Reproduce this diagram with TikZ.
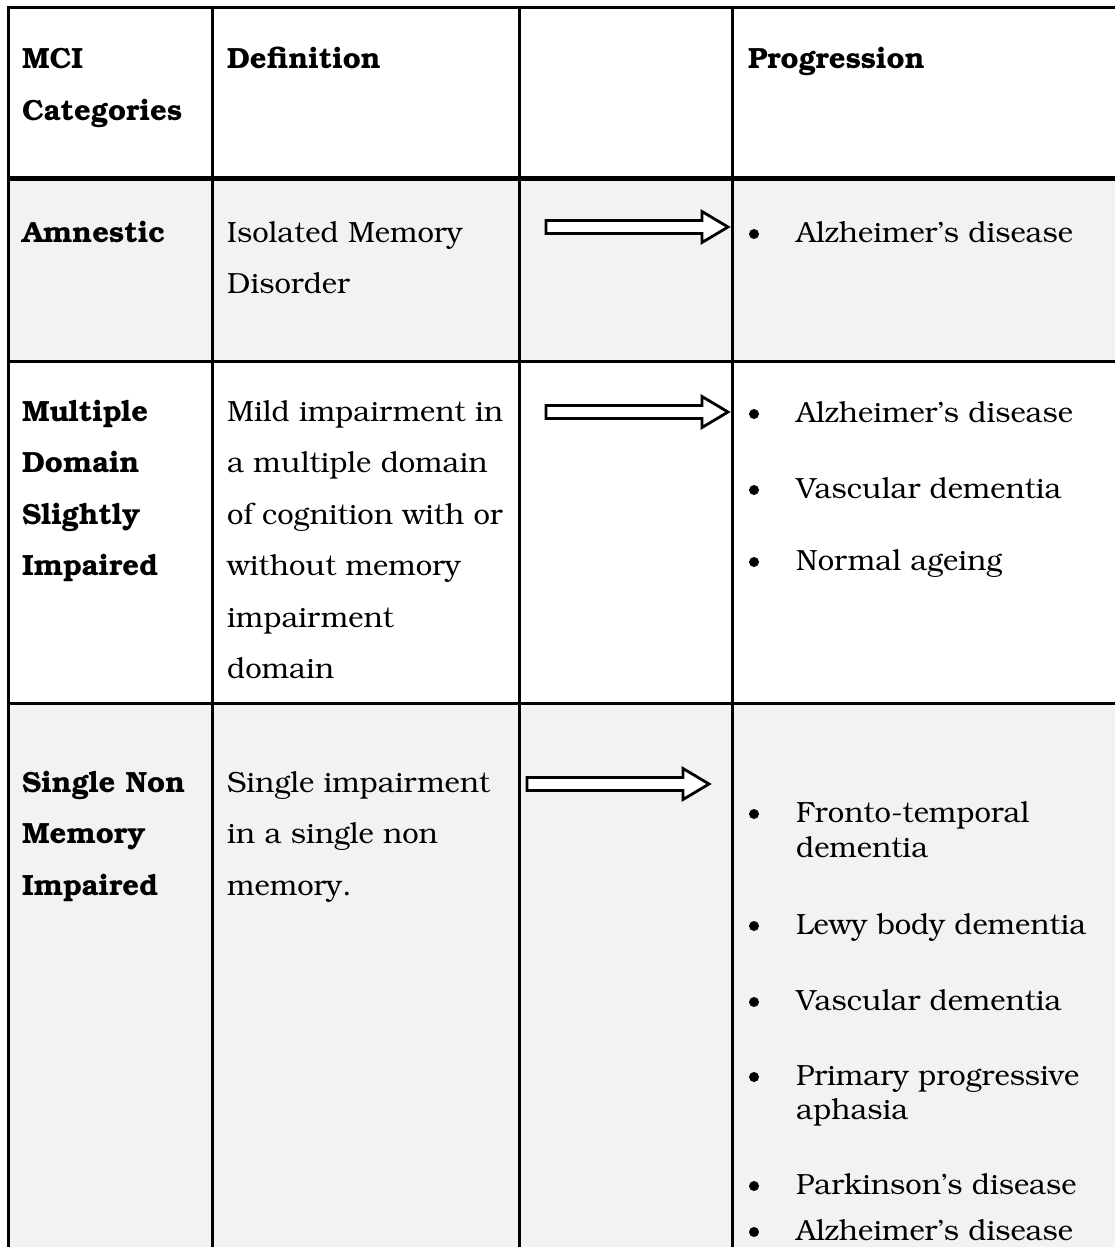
\documentclass[tikz,border=0pt]{standalone}
\usepackage[T1]{fontenc}
\usepackage{bookman}
\definecolor{rowshade}{HTML}{F2F2F2}
\begin{document}
\begin{tikzpicture}[x=1pt,y=-1pt,
  rule/.style={line width=3pt},
  headrule/.style={line width=5pt},
  cell/.style={anchor=base west, inner sep=0pt, font=\fontsize{29.2}{34}\selectfont},
  headcell/.style={cell, font=\fontsize{29.2}{34}\selectfont\bfseries},
  dot/.style={circle, fill=black, inner sep=0pt, minimum size=10pt},
  blockarrow/.pic={
    \draw[line width=2.8pt, fill=white, line join=miter]
      (0,-6.5) -- (156,-6.5) -- (156,-15.5) -- (182,0) -- (156,15.5)
      -- (156,6.5) -- (0,6.5) -- cycle;
  }]
\useasboundingbox (0,0) rectangle (1115,1247);

% shaded body rows
\fill[rowshade] (8,178) rectangle (1115,361);
\fill[rowshade] (8,703) rectangle (1115,1247);

% grid
\draw[rule] (6.5,8) -- (1115,8);
\foreach \cx in {8,212,519,732} \draw[rule] (\cx,8) -- (\cx,1247);
\draw[headrule] (8,178) -- (1115,178);
\draw[rule] (8,361) -- (1115,361);
\draw[rule] (8,703) -- (1115,703);

% header
\node[headcell] (h1a) at (22,68) {MCI};
\node[headcell] (h1b) at (22,120) {Categories};
\node[headcell] (h2) at (227,68) {Definition};
\node[headcell] (h4) at (748,68) {Progression};

% row 1
\node[headcell] (c1) at (22,242) {Amnestic};
\node[cell] (d1a) at (227,242) {Isolated Memory};
\node[cell] (d1b) at (227,293) {Disorder};
\pic at (546,227) {blockarrow};
\node[dot] (b1a) at (754,234) {};
\node[cell] (p1a) at (796,242) {Alzheimer's disease};

% row 2
\foreach \t [count=\i] in {Multiple,Domain,Slightly,Impaired}
  \node[headcell] (c2-\i) at (22,{421+51.5*(\i-1)}) {\t};
\foreach \t [count=\i] in {Mild impairment in,a multiple domain,of cognition with or,without memory,impairment,domain}
  \node[cell] (d2-\i) at (227,{421+51.5*(\i-1)}) {\t};
\pic at (546,412) {blockarrow};
\foreach \t/\yy [count=\i] in {Alzheimer's disease/422,Vascular dementia/498,Normal ageing/570}{
  \node[dot] (b2-\i) at (754,\yy-8) {};
  \node[cell] (p2-\i) at (796,\yy) {\t};
}

% row 3
\foreach \t [count=\i] in {Single Non,Memory,Impaired}
  \node[headcell] (c3-\i) at (22,{792+51.5*(\i-1)}) {\t};
\foreach \t [count=\i] in {Single impairment,in a single non,memory.}
  \node[cell] (d3-\i) at (227,{792+51.5*(\i-1)}) {\t};
\pic at (527,784) {blockarrow};
\foreach \yy [count=\i] in {822,934,1010,1085,1194,1240}
  \node[dot] (b3-\i) at (754,\yy-8) {};
\node[cell] (p3a) at (796,822) {Fronto-temporal};
\node[cell] (p3b) at (796,857) {dementia};
\node[cell] (p3c) at (796,934) {Lewy body dementia};
\node[cell] (p3d) at (796,1010) {Vascular dementia};
\node[cell] (p3e) at (796,1085) {Primary progressive};
\node[cell] (p3f) at (796,1119) {aphasia};
\node[cell] (p3g) at (796,1194) {Parkinson's disease};
\node[cell] (p3h) at (796,1240) {Alzheimer's disease};
\end{tikzpicture}
\end{document}
